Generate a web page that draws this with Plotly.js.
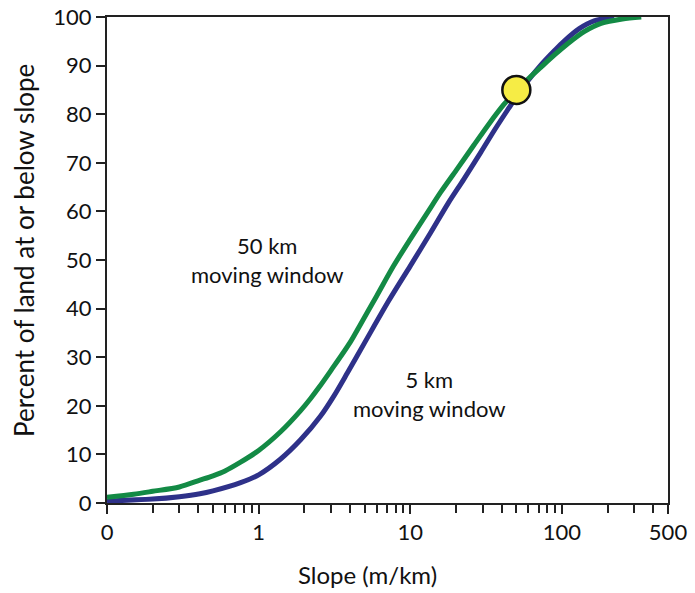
<!DOCTYPE html>
<html>
<head>
<meta charset="utf-8">
<script src="https://cdn.plot.ly/plotly-3.0.1.min.js"></script>
<style>html,body{margin:0;padding:0;background:#fff;}#chart{width:695px;height:593px;}</style>
</head>
<body>
<div id="chart"></div>
<script>
// 50 km moving window (green)
const slope50 = [0.1, 0.15, 0.2, 0.3, 0.41, 0.5, 0.6, 0.76, 1, 1.4, 1.89, 2.2, 2.5, 3, 4, 4.7, 6, 7.76, 10, 13, 15.9, 20, 26.2, 33, 41.4, 50, 60, 72.8, 90, 110, 140, 181, 250, 333];
const pct50   = [1.2, 1.8, 2.4, 3.3, 4.7, 5.6, 6.6, 8.4, 10.8, 14.7, 19.0, 21.5, 23.8, 27.3, 33.0, 36.8, 42.6, 48.8, 54.3, 59.8, 64.0, 68.4, 73.6, 78.0, 82.0, 84.8, 87.3, 89.7, 92.3, 94.6, 97.0, 98.7, 99.6, 100];
// 5 km moving window (blue)
const slope5 = [0.1, 0.2, 0.3, 0.41, 0.5, 0.76, 1, 1.39, 1.89, 2.56, 3.13, 3.85, 5, 7.2, 10, 13.6, 17.7, 22.5, 29.2, 36, 44.7, 50, 60, 72, 90, 103, 130, 163, 221];
const pct5   = [0.4, 0.8, 1.3, 1.9, 2.5, 4.2, 5.8, 9.0, 13.0, 17.9, 22.0, 26.8, 33.0, 41.6, 48.8, 55.6, 61.6, 66.6, 72.2, 76.8, 81.3, 83.6, 87.0, 90.0, 93.2, 95.0, 97.6, 99.2, 100];
// highlighted point
const markX = [50];
const markY = [85];
// axis ticks
const xTickVals = [0.1, 1, 10, 100, 500];
const xTickText = ["0", "1", "10", "100", "500"];
const xMinorVals = [0.2,0.3,0.4,0.5,0.6,0.7,0.8,0.9, 2,3,4,5,6,7,8,9, 20,30,40,50,60,70,80,90, 200,300,400];

const font = "Lato, Open Sans, sans-serif";
const traces = [
  {x: slope5, y: pct5, mode: 'lines', line: {color: '#2e3189', width: 5, shape: 'spline', smoothing: 0.8}, hoverinfo: 'skip'},
  {x: slope50, y: pct50, mode: 'lines', line: {color: '#138a45', width: 5, shape: 'spline', smoothing: 0.8}, hoverinfo: 'skip'},
  {x: markX, y: markY, mode: 'markers', marker: {size: 28, color: '#f6ec45', line: {color: '#111', width: 2.5}}, hoverinfo: 'skip'}
];
const layout = {
  width: 695, height: 593,
  margin: {l: 107, r: 27, t: 17, b: 90},
  paper_bgcolor: '#fff', plot_bgcolor: '#fff',
  showlegend: false,
  font: {family: font, color: '#111', size: 21},
  xaxis: {
    type: 'log', range: [-1, Math.log10(500)],
    tickmode: 'array', tickvals: xTickVals, ticktext: xTickText,
    ticks: 'outside', ticklen: 9, tickwidth: 2, tickcolor: '#222',
    minor: {tickmode: 'array', tickvals: xMinorVals, ticks: 'outside', ticklen: 8, tickwidth: 2, tickcolor: '#222', showgrid: false},
    showline: true, linecolor: '#222', linewidth: 2, mirror: true,
    showgrid: false, zeroline: false,
    tickfont: {size: 22, family: font},
    title: {text: ''}
  },
  yaxis: {
    range: [0, 100], tickmode: 'linear', tick0: 0, dtick: 10,
    ticks: 'outside', ticklen: 9, tickwidth: 2, tickcolor: '#222',
    showline: true, linecolor: '#222', linewidth: 2, mirror: true,
    showgrid: false, zeroline: false,
    tickfont: {size: 22, family: font},
    title: {text: ''}
  },
  annotations: [
    {xref: 'paper', yref: 'paper', x: (367-107)/561, y: (503-574)/486, xanchor: 'center', yanchor: 'middle', text: 'Slope (m/km)', showarrow: false, font: {size: 24, family: font, color: '#111'}},
    {xref: 'paper', yref: 'paper', x: (24-107)/561, y: (503-251)/486, xanchor: 'center', yanchor: 'middle', textangle: -90, text: 'Percent of land at or below slope', showarrow: false, font: {size: 26, family: font, color: '#111'}},
    {xref: 'paper', yref: 'paper', x: (267-107)/561, y: (503-260)/486, xanchor: 'center', yanchor: 'middle', text: '50 km<br>moving window', showarrow: false, font: {size: 22, family: font, color: '#111'}, align: 'center'},
    {xref: 'paper', yref: 'paper', x: (429-107)/561, y: (503-394)/486, xanchor: 'center', yanchor: 'middle', text: '5 km<br>moving window', showarrow: false, font: {size: 22, family: font, color: '#111'}, align: 'center'}
  ]
};
Plotly.newPlot('chart', traces, layout, {displayModeBar: false, staticPlot: true});
</script>
</body>
</html>
